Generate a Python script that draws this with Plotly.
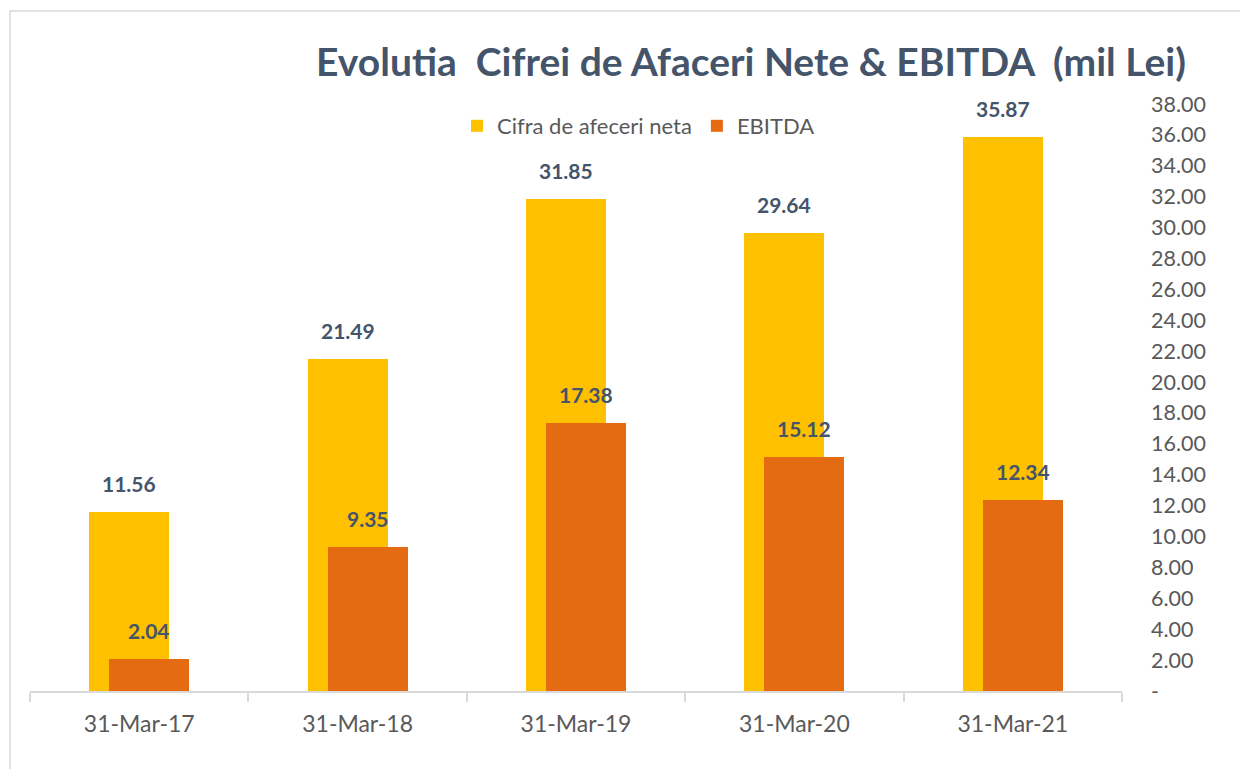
import plotly.graph_objects as go

categories = ["31-Mar-17", "31-Mar-18", "31-Mar-19", "31-Mar-20", "31-Mar-21"]
cifra_afaceri = [11.56, 21.49, 31.85, 29.64, 35.87]
ebitda = [2.04, 9.35, 17.38, 15.12, 12.34]
y_ticks = [0, 2, 4, 6, 8, 10, 12, 14, 16, 18, 20, 22, 24, 26, 28, 30, 32, 34, 36, 38]
y_tick_labels = ["-"] + [f"{v:.2f}" for v in y_ticks[1:]]

FONT = "Lato, Calibri, 'Open Sans', sans-serif"
DARK = "#44546A"
GREY = "#595959"
OFF = 8  # default page body margin
W, H = 1248 - OFF, 769 - OFF
L, R, T, B = 30 - OFF, 126, 104 - OFF, 78
bar_w = 0.366
shift = 0.0458

fig = go.Figure()
fig.add_trace(go.Bar(
    name="Cifra de afeceri neta", x=categories, y=cifra_afaceri,
    width=bar_w, offset=-shift - bar_w / 2,
    marker=dict(color="#FFC000", line=dict(width=0)),
))
fig.add_trace(go.Bar(
    name="EBITDA", x=categories, y=ebitda,
    width=bar_w, offset=shift - bar_w / 2,
    marker=dict(color="#E56B12", line=dict(width=0)),
))

annotations = []
for series, dx in ((cifra_afaceri, -10), (ebitda, 10)):
    for c, v in zip(categories, series):
        annotations.append(dict(
            x=c, y=v, xref="x", yref="y", text=f"<b>{v:.2f}</b>",
            showarrow=False, xshift=dx, yshift=14, yanchor="bottom",
            font=dict(family=FONT, size=21, color=DARK),
        ))

pw = W - L - R
ph = H - T - B
fig.add_shape(
    type="rect", xref="paper", yref="paper",
    x0=(10 - OFF - L) / pw, x1=(W + 5 - L) / pw,
    y0=(H - B - (H + 5)) / ph, y1=(H - B - (11 - OFF)) / ph,
    line=dict(color="#D9D9D9", width=1.5), fillcolor="rgba(0,0,0,0)", layer="below",
)

fig.update_layout(
    width=W, height=H,
    margin=dict(l=L, r=R, t=T, b=B),
    paper_bgcolor="white", plot_bgcolor="white",
    barmode="overlay",
    bargap=0,
    font=dict(family=FONT, color=GREY, size=21),
    title=dict(
        text="<b>Evolutia  Cifrei de Afaceri Nete &amp; EBITDA  (mil Lei)</b>",
        x=(751 - OFF) / W, xanchor="center", xref="container",
        y=1 - (62 - OFF) / H, yanchor="middle", yref="container",
        font=dict(family=FONT, size=39, color=DARK),
    ),
    legend=dict(
        orientation="h", x=(457 - OFF - L) / pw, xanchor="left",
        y=1 - 22 / ph, yanchor="middle",
        font=dict(family=FONT, size=22, color=GREY),
        bgcolor="rgba(0,0,0,0)", itemwidth=30, tracegroupgap=0,
    ),
    xaxis=dict(
        type="category", showline=True, linecolor="#D9D9D9", linewidth=1.5,
        ticks="outside", tickson="boundaries", ticklen=9, tickcolor="#D9D9D9",
        tickwidth=1.5, showgrid=False, zeroline=False, ticklabelstandoff=12,
        tickfont=dict(family=FONT, size=23, color=GREY),
    ),
    yaxis=dict(
        side="right", range=[0, 38], tickvals=y_ticks, ticktext=y_tick_labels,
        showgrid=False, zeroline=False, showline=False, ticks="",
        ticklabelstandoff=28,
        tickfont=dict(family=FONT, size=21.5, color=GREY),
    ),
    annotations=annotations,
    showlegend=True,
)

fig.write_html("out.html")
